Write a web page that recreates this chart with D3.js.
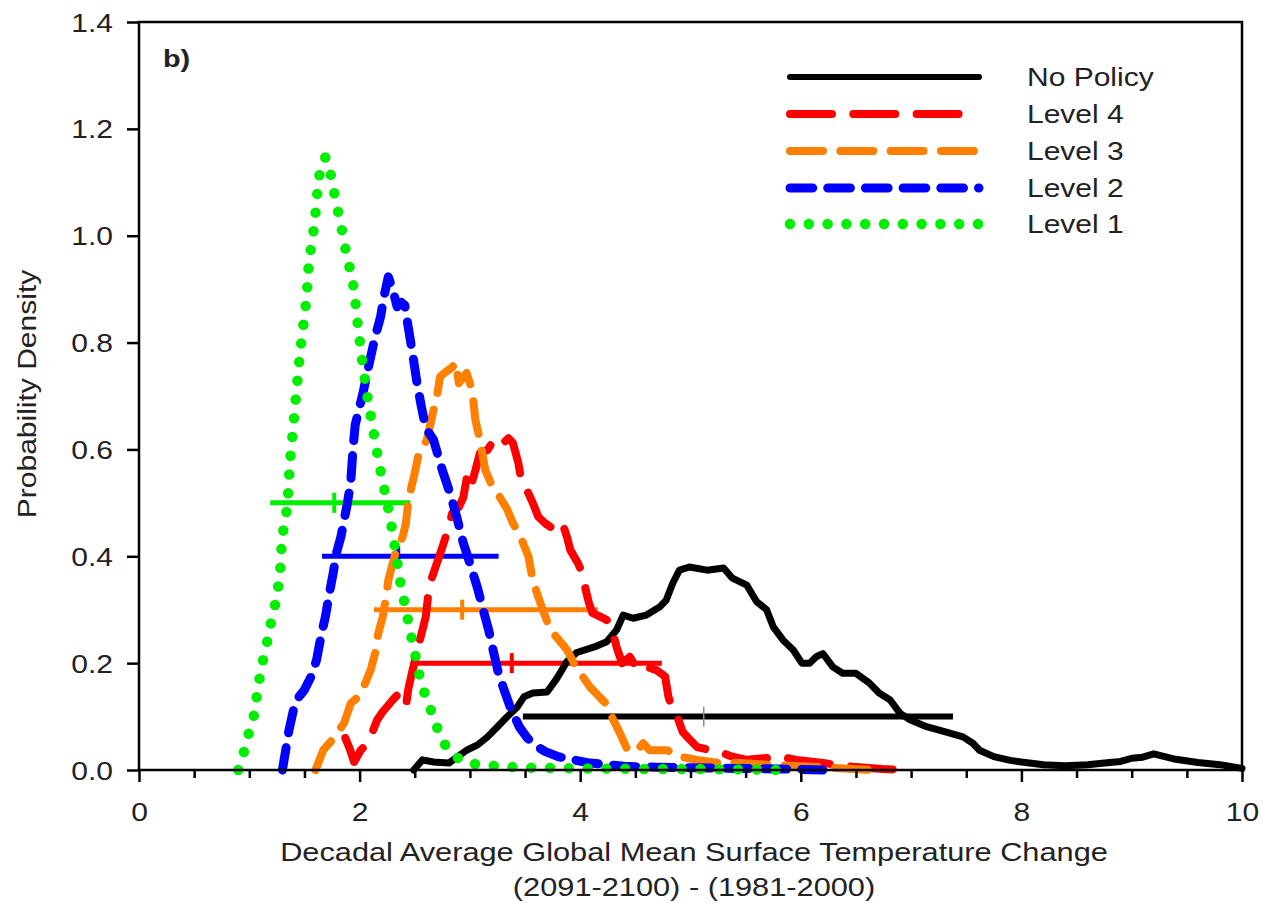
<!DOCTYPE html>
<html>
<head>
<meta charset="utf-8">
<script src="https://cdn.jsdelivr.net/npm/d3@7"></script>
<style>
  html, body { margin: 0; padding: 0; background: #fff; }
  svg { display: block; }
  text { font-family: "Liberation Sans", Arial, sans-serif; fill: #222; }
</style>
</head>
<body>
<svg id="chart" width="1263" height="903"></svg>
<script>
// ---------------- DATA ----------------
const seriesNames = ["No Policy", "Level 4", "Level 3", "Level 2", "Level 1"];

const noPolicyX = [2.49,2.57,2.67,2.81,2.89,2.97,3.07,3.16,3.25,3.34,3.43,3.49,3.57,3.70,3.79,3.88,3.97,4.15,4.24,4.33,4.39,4.48,4.60,4.72,4.78,4.84,4.90,4.99,5.15,5.30,5.38,5.51,5.60,5.69,5.75,5.84,5.93,6.01,6.08,6.14,6.20,6.29,6.38,6.50,6.62,6.71,6.81,6.90,6.99,7.14,7.32,7.47,7.56,7.62,7.75,7.90,8.00,8.20,8.40,8.60,8.80,8.90,9.00,9.10,9.20,9.30,9.40,9.60,9.80,10.00];
const noPolicyY = [0.000,0.019,0.015,0.013,0.025,0.037,0.047,0.062,0.081,0.100,0.118,0.137,0.144,0.146,0.172,0.203,0.220,0.232,0.240,0.262,0.290,0.284,0.290,0.305,0.318,0.350,0.374,0.380,0.374,0.378,0.359,0.346,0.315,0.300,0.268,0.243,0.225,0.200,0.200,0.212,0.218,0.193,0.181,0.181,0.163,0.144,0.131,0.106,0.094,0.081,0.071,0.062,0.050,0.037,0.025,0.018,0.015,0.010,0.008,0.010,0.014,0.016,0.022,0.024,0.030,0.025,0.020,0.014,0.010,0.003];

const level4X = [1.87,1.91,1.95,2.01,2.08,2.16,2.21,2.30,2.34,2.39,2.42,2.44,2.48,2.51,2.53,2.57,2.60,2.62,2.64,2.70,2.75,2.80,2.84,2.90,2.94,2.97,3.00,3.05,3.09,3.16,3.20,3.25,3.28,3.35,3.39,3.44,3.46,3.53,3.57,3.62,3.68,3.73,3.79,3.85,3.88,3.91,3.98,4.02,4.05,4.08,4.11,4.18,4.24,4.29,4.33,4.38,4.45,4.52,4.60,4.69,4.77,4.80,4.84,4.89,4.93,4.98,5.06,5.18,5.30,5.38,5.51,5.66,5.81,5.96,6.20,6.47,6.74,6.94];
const level4Y = [0.060,0.040,0.015,0.037,0.052,0.094,0.109,0.131,0.140,0.125,0.118,0.150,0.187,0.212,0.230,0.262,0.287,0.324,0.350,0.387,0.417,0.449,0.481,0.492,0.510,0.545,0.525,0.561,0.593,0.599,0.612,0.618,0.608,0.621,0.612,0.574,0.548,0.518,0.500,0.474,0.462,0.455,0.468,0.455,0.436,0.412,0.387,0.368,0.337,0.312,0.294,0.287,0.281,0.262,0.230,0.200,0.212,0.187,0.193,0.187,0.175,0.137,0.112,0.094,0.071,0.060,0.043,0.037,0.031,0.025,0.019,0.022,0.025,0.019,0.013,0.006,0.002,0.000];

const level3X = [1.60,1.67,1.75,1.86,1.92,1.99,2.05,2.10,2.14,2.17,2.21,2.24,2.26,2.30,2.34,2.39,2.42,2.44,2.47,2.50,2.53,2.61,2.67,2.70,2.73,2.78,2.84,2.87,2.90,2.97,3.02,3.05,3.09,3.14,3.19,3.25,3.34,3.39,3.46,3.53,3.57,3.62,3.66,3.73,3.80,3.88,3.97,4.09,4.23,4.30,4.36,4.43,4.52,4.57,4.63,4.79,4.90,5.06,5.27,5.45,5.70,6.00,6.30,6.63];
const level3Y = [0.000,0.037,0.056,0.088,0.125,0.137,0.162,0.187,0.218,0.256,0.287,0.324,0.355,0.387,0.417,0.436,0.462,0.500,0.530,0.556,0.586,0.618,0.674,0.698,0.736,0.745,0.754,0.763,0.724,0.743,0.711,0.655,0.618,0.561,0.537,0.518,0.487,0.462,0.436,0.400,0.355,0.324,0.300,0.262,0.245,0.225,0.190,0.155,0.125,0.094,0.069,0.037,0.037,0.050,0.037,0.037,0.025,0.019,0.013,0.013,0.010,0.007,0.004,0.000];

const level2X = [1.30,1.33,1.36,1.40,1.45,1.50,1.56,1.61,1.65,1.69,1.72,1.76,1.79,1.83,1.86,1.89,1.92,1.94,1.96,2.03,2.08,2.14,2.19,2.22,2.26,2.30,2.34,2.38,2.41,2.44,2.48,2.52,2.56,2.60,2.67,2.75,2.82,2.88,2.94,3.00,3.07,3.12,3.17,3.21,3.26,3.31,3.37,3.45,3.52,3.60,3.68,3.80,3.94,4.09,4.25,4.40,4.70,5.00,5.40,5.80,6.20];
const level2Y = [0.000,0.037,0.075,0.112,0.137,0.150,0.175,0.206,0.250,0.287,0.324,0.368,0.406,0.436,0.468,0.500,0.540,0.600,0.646,0.705,0.754,0.810,0.848,0.885,0.923,0.900,0.867,0.875,0.870,0.830,0.780,0.725,0.680,0.640,0.618,0.561,0.518,0.474,0.425,0.387,0.340,0.300,0.262,0.225,0.180,0.150,0.115,0.080,0.060,0.045,0.035,0.025,0.019,0.013,0.010,0.007,0.005,0.004,0.003,0.002,0.000];

const level1X = [0.90,0.95,0.99,1.04,1.09,1.12,1.16,1.19,1.23,1.26,1.28,1.29,1.30,1.33,1.35,1.37,1.40,1.43,1.46,1.50,1.52,1.54,1.565,1.59,1.62,1.64,1.69,1.745,1.77,1.81,1.84,1.87,1.91,1.95,1.98,2.02,2.07,2.12,2.18,2.25,2.28,2.31,2.34,2.37,2.42,2.46,2.50,2.55,2.61,2.67,2.72,2.81,2.96,3.11,3.30,3.60,4.00,4.50,5.00,5.50,5.85];
const level1Y = [0.000,0.033,0.065,0.100,0.168,0.202,0.238,0.270,0.305,0.340,0.374,0.410,0.440,0.470,0.510,0.580,0.645,0.715,0.780,0.850,0.885,0.950,0.986,1.020,1.087,1.120,1.147,1.110,1.080,1.040,1.010,0.977,0.940,0.900,0.840,0.770,0.700,0.640,0.570,0.500,0.468,0.430,0.390,0.350,0.300,0.258,0.220,0.170,0.130,0.100,0.069,0.034,0.013,0.010,0.006,0.004,0.003,0.002,0.002,0.001,0.000];

// Percentile range bars (drawn at a fixed height for each series)
const barLevels  = [0.1, 0.2, 0.3, 0.4, 0.5];
const barLow     = [3.48, 2.48, 2.13, 1.66, 1.19];
const barHigh    = [7.38, 4.74, 4.16, 3.26, 2.46];
const barMedian  = [5.12, 3.38, 2.93, 2.35, 1.77];

const xMajorTicks = [0, 2, 4, 6, 8, 10];
const xMinorTicks = [0.5, 1, 1.5, 2.5, 3, 3.5, 4.5, 5, 5.5, 6.5, 7, 7.5, 8.5, 9, 9.5];
const yTicks = [0.0, 0.2, 0.4, 0.6, 0.8, 1.0, 1.2, 1.4];

const xTitle1 = "Decadal Average Global Mean Surface Temperature Change";
const xTitle2 = "(2091-2100) - (1981-2000)";
const yTitle = "Probability Density";
const panelLabel = "b)";

// ---------------- STYLES ----------------
const styles = [
  { color: "#000000", width: 7,  dash: null },
  { color: "#ff0000", width: 8,  dash: "42,21.3" },
  { color: "#ff7f00", width: 8,  dash: "33,17.3" },
  { color: "#0000ff", width: 9,  dash: "22.7,15" },
  { color: "#00ee00", width: 10.5, dash: "0,18.8" }
];
const seriesX = [noPolicyX, level4X, level3X, level2X, level1X];
const seriesY = [noPolicyY, level4Y, level3Y, level2Y, level1Y];

// ---------------- CHART ----------------
const svg = d3.select("#chart");
const L = 139, R = 1242, T = 22, B = 770;
const x = d3.scaleLinear().domain([0, 10]).range([L, R]);
const y = d3.scaleLinear().domain([0, 1.4]).range([B, T]);
const SX = 1.2; // horizontal text stretch
const FS = 25;

function stretchedText(g, str, px, py, anchor, opts = {}) {
  const t = g.append("text")
    .attr("transform", `translate(${px},${py}) scale(${opts.sx || SX},1)`)
    .attr("text-anchor", anchor)
    .style("font-size", (opts.size || FS) + "px")
    .text(str);
  if (opts.bold) t.style("font-weight", "bold");
  return t;
}

// Error bars (under curves)
const bars = svg.append("g");
barLevels.forEach((lv, i) => {
  const c = styles[i].color;
  const isBlack = i === 0;
  bars.append("line")
    .attr("x1", x(barLow[i])).attr("x2", x(barHigh[i]))
    .attr("y1", y(lv)).attr("y2", y(lv))
    .attr("stroke", c).attr("stroke-width", isBlack ? 6 : 5);
  bars.append("line")
    .attr("x1", x(barMedian[i])).attr("x2", x(barMedian[i]))
    .attr("y1", y(lv) - 10).attr("y2", y(lv) + 10)
    .attr("stroke", isBlack ? "#888" : c).attr("stroke-width", isBlack ? 1.5 : 4);
});

// Curves
const line = d3.line().x(d => x(d[0])).y(d => y(d[1]));
const curves = svg.append("g");
seriesX.forEach((xs, i) => {
  const pts = xs.map((v, j) => [v, seriesY[i][j]]);
  const p = curves.append("path")
    .datum(pts)
    .attr("d", line)
    .attr("fill", "none")
    .attr("stroke", styles[i].color)
    .attr("stroke-width", styles[i].width)
    .attr("stroke-linecap", "round")
    .attr("stroke-linejoin", "round");
  if (styles[i].dash) p.attr("stroke-dasharray", styles[i].dash);
});

// Axes
const xAxisMajor = d3.axisBottom(x).tickValues(xMajorTicks).tickSize(12).tickSizeOuter(0).tickFormat(d3.format("d"));
const xAxisMinor = d3.axisBottom(x).tickValues(xMinorTicks).tickSize(8).tickSizeOuter(0).tickFormat("");
const yAxis = d3.axisLeft(y).tickValues(yTicks).tickSize(12).tickSizeOuter(0).tickFormat(d3.format(".1f"));

const gxMinor = svg.append("g").attr("transform", `translate(0,${B})`).call(xAxisMinor);
const gx = svg.append("g").attr("transform", `translate(0,${B})`).call(xAxisMajor);
const gy = svg.append("g").attr("transform", `translate(${L},0)`).call(yAxis);

[gx, gxMinor, gy].forEach(g => {
  g.select(".domain").remove();
  g.selectAll(".tick line").attr("stroke", "#000").attr("stroke-width", 2.5);
});
gx.selectAll(".tick text")
  .attr("y", 51).attr("dy", 0)
  .attr("transform", `scale(${SX},1)`)
  .style("font-size", FS + "px").style("font-family", "'Liberation Sans', Arial, sans-serif").attr("fill", "#222");
gy.selectAll(".tick text")
  .attr("x", -26 / SX).attr("dy", "0.36em")
  .attr("transform", `scale(${SX},1)`)
  .style("font-size", FS + "px").style("font-family", "'Liberation Sans', Arial, sans-serif").attr("fill", "#222");

// Frame
svg.append("rect")
  .attr("x", L).attr("y", T).attr("width", R - L).attr("height", B - T)
  .attr("fill", "none").attr("stroke", "#000").attr("stroke-width", 2.5);

// Titles
stretchedText(svg, xTitle1, 694, 861, "middle", { sx: 1.23 });
stretchedText(svg, xTitle2, 694, 896, "middle", { sx: 1.23 });
svg.append("text")
  .attr("transform", `translate(36,394) rotate(-90) scale(${SX},1)`)
  .attr("text-anchor", "middle")
  .style("font-size", FS + "px")
  .text(yTitle);
stretchedText(svg, panelLabel, 163, 67, "start", { bold: true, size: 24 });

// Legend
const legend = svg.append("g");
const legendY = [77, 114, 151, 188, 224];
seriesNames.forEach((name, i) => {
  const ly = legendY[i];
  const l = legend.append("line")
    .attr("x1", 790).attr("x2", 979)
    .attr("y1", ly).attr("y2", ly)
    .attr("stroke", styles[i].color)
    .attr("stroke-width", i === 0 ? 6 : styles[i].width)
    .attr("stroke-linecap", "round");
  if (styles[i].dash) l.attr("stroke-dasharray", styles[i].dash);
  stretchedText(legend, name, 1027, ly + 9, "start");
});
</script>
</body>
</html>
